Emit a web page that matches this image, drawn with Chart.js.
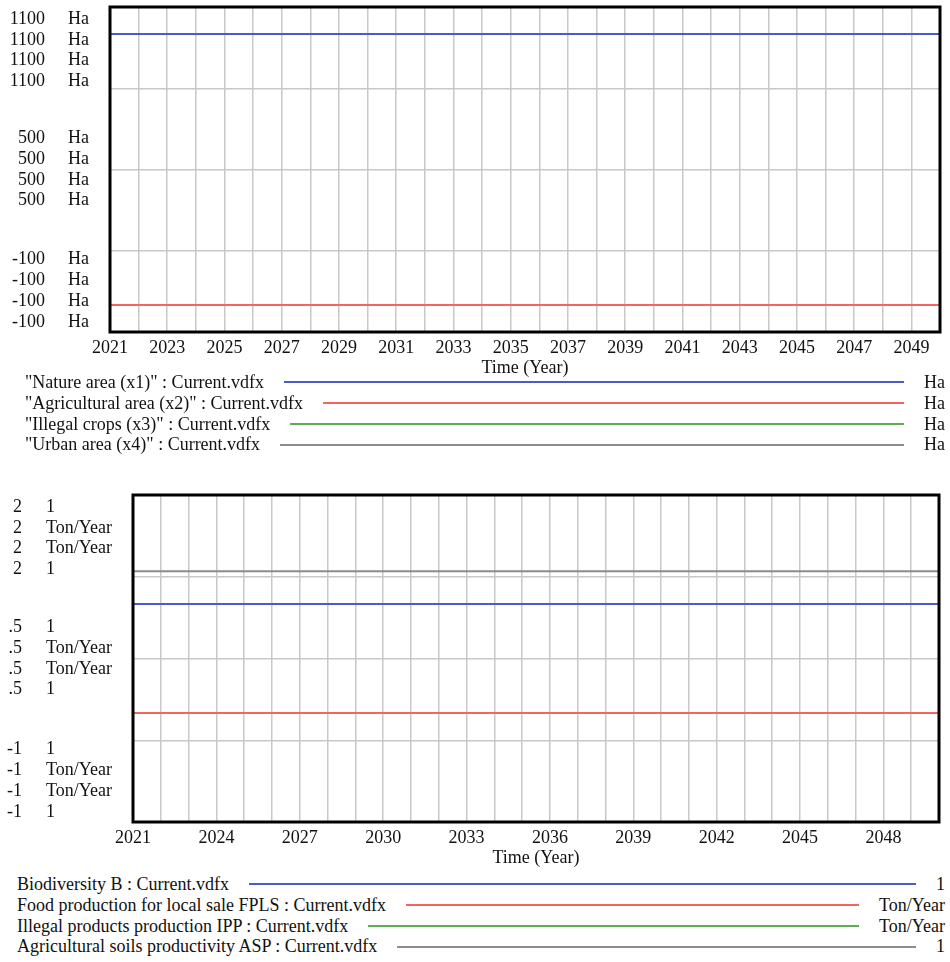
<!DOCTYPE html>
<html>
<head>
<meta charset="utf-8">
<script src="https://cdn.jsdelivr.net/npm/chart.js@4.4.1/dist/chart.umd.min.js"></script>
<style>
  body { margin: 0; background: #fff; font-family: "Liberation Serif", "DejaVu Serif", serif; color: #111; }
  #page { position: relative; width: 950px; height: 962px; overflow: hidden; }
  canvas { position: absolute; left: 0; }
  .legend { position: absolute; font-size: 18px; }
  .row { display: flex; align-items: center; height: 20.8px; white-space: nowrap; }
  .row .swatch { flex: 1; height: 2px; margin: 0 20px; }
</style>
</head>
<body>
<div id="page">
  <canvas id="areaChart" width="950" height="380" style="top:0"></canvas>
  <div id="areaLegend" class="legend" style="top:372px; left:25px; right:5px"></div>
  <canvas id="prodChart" width="950" height="400" style="top:470px"></canvas>
  <div id="prodLegend" class="legend" style="top:874px; left:17px; right:5px"></div>
</div>
<script>
// ===================
// Data
// ===================
const years = [2021, 2022, 2023, 2024, 2025, 2026, 2027, 2028, 2029, 2030,
               2031, 2032, 2033, 2034, 2035, 2036, 2037, 2038, 2039, 2040,
               2041, 2042, 2043, 2044, 2045, 2046, 2047, 2048, 2049, 2050];

// top chart (Ha)
const natureArea = [1000, 1000, 1000, 1000, 1000, 1000, 1000, 1000, 1000, 1000,
                    1000, 1000, 1000, 1000, 1000, 1000, 1000, 1000, 1000, 1000,
                    1000, 1000, 1000, 1000, 1000, 1000, 1000, 1000, 1000, 1000];
const agriculturalArea = [0, 0, 0, 0, 0, 0, 0, 0, 0, 0, 0, 0, 0, 0, 0,
                          0, 0, 0, 0, 0, 0, 0, 0, 0, 0, 0, 0, 0, 0, 0];
const illegalCrops = [0, 0, 0, 0, 0, 0, 0, 0, 0, 0, 0, 0, 0, 0, 0,
                      0, 0, 0, 0, 0, 0, 0, 0, 0, 0, 0, 0, 0, 0, 0];
const urbanArea = [0, 0, 0, 0, 0, 0, 0, 0, 0, 0, 0, 0, 0, 0, 0,
                   0, 0, 0, 0, 0, 0, 0, 0, 0, 0, 0, 0, 0, 0, 0];

// bottom chart
const biodiversity = [1, 1, 1, 1, 1, 1, 1, 1, 1, 1, 1, 1, 1, 1, 1,
                      1, 1, 1, 1, 1, 1, 1, 1, 1, 1, 1, 1, 1, 1, 1];
const foodProduction = [0, 0, 0, 0, 0, 0, 0, 0, 0, 0, 0, 0, 0, 0, 0,
                        0, 0, 0, 0, 0, 0, 0, 0, 0, 0, 0, 0, 0, 0, 0];
const illegalProducts = [0, 0, 0, 0, 0, 0, 0, 0, 0, 0, 0, 0, 0, 0, 0,
                         0, 0, 0, 0, 0, 0, 0, 0, 0, 0, 0, 0, 0, 0, 0];
const soilsProductivity = [1.3, 1.3, 1.3, 1.3, 1.3, 1.3, 1.3, 1.3, 1.3, 1.3,
                           1.3, 1.3, 1.3, 1.3, 1.3, 1.3, 1.3, 1.3, 1.3, 1.3,
                           1.3, 1.3, 1.3, 1.3, 1.3, 1.3, 1.3, 1.3, 1.3, 1.3];

const areaNames = ['"Nature area (x1)" : Current.vdfx', '"Agricultural area (x2)" : Current.vdfx',
                   '"Illegal crops (x3)" : Current.vdfx', '"Urban area (x4)" : Current.vdfx'];
const areaUnits = ['Ha', 'Ha', 'Ha', 'Ha'];
const areaTickValues = [1100, 500, -100];
const areaTickLabels = ['1100', '500', '-100'];

const prodNames = ['Biodiversity B : Current.vdfx', 'Food production for local sale FPLS : Current.vdfx',
                   'Illegal products production IPP : Current.vdfx', 'Agricultural soils productivity ASP : Current.vdfx'];
const prodUnits = ['1', 'Ton/Year', 'Ton/Year', '1'];
const prodTickValues = [2, 0.5, -1];
const prodTickLabels = ['2', '.5', '-1'];

const colors = ['#4a5cc6', '#f2665f', '#5fad55', '#8c8c8c'];
const FONT = '"Liberation Serif", "DejaVu Serif", serif';

// ===================
// Helpers
// ===================
function makeSets(seriesList, names) {
  return seriesList.map((vals, i) => ({
    label: names[i],
    data: years.map((yr, j) => ({ x: yr, y: vals[j] })),
    borderColor: colors[i],
    borderWidth: 2,
    pointRadius: 0,
    tension: 0,
    fill: false
  }));
}

// stacked y labels (number + unit per series) and the black frame
function frameAndLabels(tickValues, tickLabels, units, numRight, unitLeft) {
  return {
    id: 'frameAndLabels',
    afterDraw(chart) {
      const { ctx, chartArea: a, scales } = chart;
      const ys = scales.y;
      const step = 20.8;
      ctx.save();
      ctx.lineWidth = 3;
      ctx.strokeStyle = '#000';
      ctx.strokeRect(a.left, a.top, a.right - a.left, a.bottom - a.top);

      ctx.font = '18px ' + FONT;
      ctx.fillStyle = '#111';
      ctx.textBaseline = 'middle';
      tickValues.forEach((v, i) => {
        const py = ys.getPixelForValue(v);
        let first;
        if (v === ys.max) first = py + 12;
        else if (v === ys.min) first = py - 10 - step * (units.length - 1);
        else first = py - step * (units.length - 1) / 2;
        units.forEach((u, k) => {
          const ty = first + k * step;
          ctx.textAlign = 'right';
          ctx.fillText(tickLabels[i], numRight, ty);
          ctx.textAlign = 'left';
          ctx.fillText(u, unitLeft, ty);
        });
      });

      ctx.textAlign = 'center';
      ctx.fillText('Time (Year)', (a.left + a.right) / 2, a.bottom + 36);
      ctx.restore();
    }
  };
}

function makeChart(id, sets, opts) {
  return new Chart(document.getElementById(id).getContext('2d'), {
    type: 'line',
    data: { datasets: sets },
    options: {
      responsive: false,
      animation: false,
      layout: { padding: { top: opts.top, right: opts.right, left: 0, bottom: 0 } },
      plugins: { legend: { display: false }, tooltip: { enabled: false } },
      scales: {
        x: {
          type: 'linear',
          min: 2021,
          max: 2050,
          afterFit: (s) => { s.height = 48; },
          border: { display: false },
          grid: { color: '#c8c8c8', lineWidth: 1.5, drawTicks: false },
          ticks: {
            stepSize: 1,
            autoSkip: false,
            maxRotation: 0,
            padding: 5,
            color: '#111',
            font: { family: FONT, size: 18 },
            callback: (v) => ((v - 2021) % opts.every === 0 && v < 2050) ? String(v) : ''
          }
        },
        y: {
          min: opts.min,
          max: opts.max,
          afterFit: (s) => { s.width = opts.left; },
          border: { display: false },
          grid: { color: '#c8c8c8', lineWidth: 1.5, drawTicks: false },
          ticks: { stepSize: opts.step, display: false }
        }
      }
    },
    plugins: [frameAndLabels(opts.tickValues, opts.tickLabels, opts.units, opts.numRight, opts.unitLeft)]
  });
}

function buildLegend(id, names, units) {
  const box = document.getElementById(id);
  names.forEach((n, i) => {
    const row = document.createElement('div');
    row.className = 'row';
    row.innerHTML = '<span></span><div class="swatch"></div><span></span>';
    row.children[0].textContent = n;
    row.children[1].style.background = colors[i];
    row.children[2].textContent = units[i];
    box.appendChild(row);
  });
}

// ===================
// Charts
// ===================
makeChart('areaChart', makeSets([natureArea, agriculturalArea, illegalCrops, urbanArea], areaNames), {
  top: 7, right: 10, left: 110, min: -100, max: 1100, step: 300, every: 2,
  tickValues: areaTickValues, tickLabels: areaTickLabels, units: areaUnits,
  numRight: 45, unitLeft: 68
});
buildLegend('areaLegend', areaNames, areaUnits);

makeChart('prodChart', makeSets([biodiversity, foodProduction, illegalProducts, soilsProductivity], prodNames), {
  top: 25, right: 11, left: 133, min: -1, max: 2, step: 0.75, every: 3,
  tickValues: prodTickValues, tickLabels: prodTickLabels, units: prodUnits,
  numRight: 22, unitLeft: 46
});
buildLegend('prodLegend', prodNames, prodUnits);
</script>
</body>
</html>
